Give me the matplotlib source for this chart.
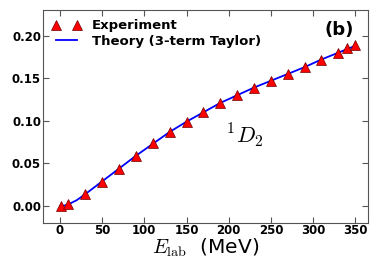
import numpy as np
import matplotlib
matplotlib.use('Agg')
import matplotlib.pyplot as plt

plt.rcParams['mathtext.fontset'] = 'cm'

# experimental phase shift points (1D2)
e_exp = [1, 10, 30, 50, 70, 90, 110, 130, 150, 170, 190, 210, 230, 250, 270, 290, 310, 330, 340, 350]
d_exp = [0.000, 0.002, 0.014, 0.028, 0.044, 0.059, 0.074, 0.087, 0.099, 0.110, 0.121, 0.130,
         0.139, 0.147, 0.155, 0.163, 0.171, 0.180, 0.185, 0.189]

# theory curve (3-term Taylor)
e_th = [0, 5, 10, 20, 30, 50, 70, 90, 110, 130, 150, 170, 190, 210, 230, 250, 270, 290, 310, 330, 350]
d_th = [0.000, 0.0005, 0.002, 0.007, 0.014, 0.029, 0.044, 0.059, 0.073, 0.087, 0.099, 0.110,
        0.121, 0.130, 0.139, 0.147, 0.155, 0.163, 0.172, 0.180, 0.188]

fig = plt.figure(figsize=(3.82, 2.64), dpi=100)
ax = fig.add_axes([0.113, 0.155, 0.85, 0.807])

ax.plot(e_th, d_th, color='blue', lw=1.3, label='Theory (3-term Taylor)', zorder=2)
ax.plot(e_exp, d_exp, ls='none', marker='^', ms=7.5, mfc='red', mec='#700000', mew=0.5,
        label='Experiment', zorder=3)

ax.set_xlim(-20, 365)
ax.set_ylim(-0.02, 0.23)
ax.set_xticks([0, 50, 100, 150, 200, 250, 300, 350])
ax.set_xticklabels(['0', '50', '100', '150', '200', '250', '300', '350'],
                   fontweight='bold', fontsize=8.5)
ax.set_yticks([0.0, 0.05, 0.10, 0.15, 0.20])
ax.set_yticklabels(['0.00', '0.05', '0.10', '0.15', '0.20'], fontweight='bold', fontsize=8.5)
ax.tick_params(direction='in', top=True, right=True, length=4, width=0.8, color='#555555')
ax.tick_params(axis='y', pad=1.5)
ax.tick_params(axis='x', pad=1)
for sp in ax.spines.values():
    sp.set_color('#555555')

ax.set_xlabel(r'$E_{\rm lab}$  (MeV)', fontsize=14.5, labelpad=-1)

h, l = ax.get_legend_handles_labels()
ax.legend(h[::-1], l[::-1], loc='upper left', frameon=False, numpoints=2,
          prop={'weight': 'bold', 'size': 9.5}, handlelength=2.2, borderaxespad=0.3,
          labelspacing=0.2)

ax.text(0.957, 0.906, '(b)', transform=ax.transAxes, ha='right', va='center',
        fontsize=13, fontweight='bold')
ax.text(219, 0.083, r'$^1D_2$', fontsize=16, ha='center', va='center')

fig.savefig('out.png', dpi=100)
